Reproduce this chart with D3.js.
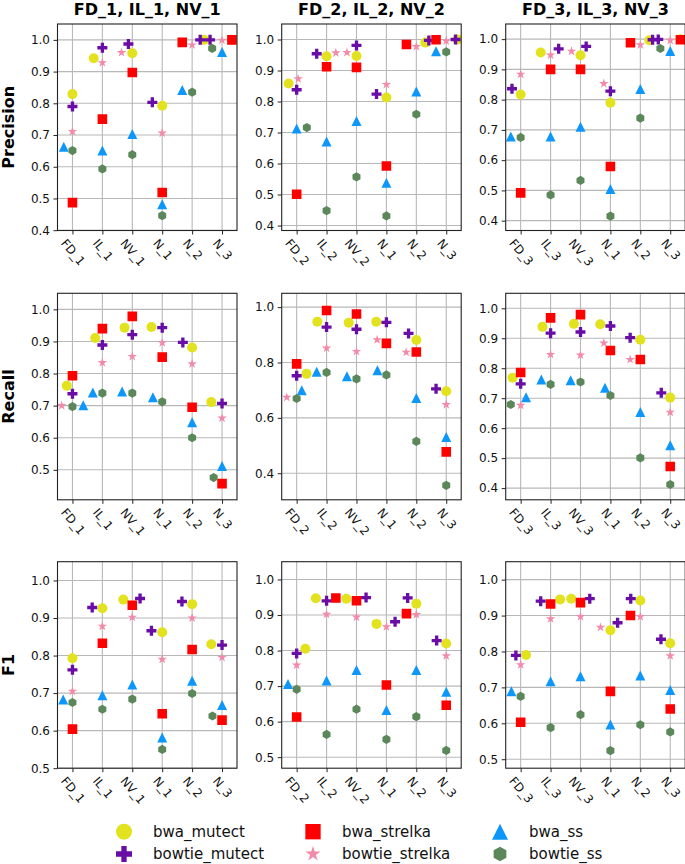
<!DOCTYPE html>
<html><head><meta charset="utf-8">
<script src="https://cdn.jsdelivr.net/npm/d3@7"></script>
<style>
body{margin:0;background:#fff}
svg{display:block}
text{font-family:"DejaVu Sans",sans-serif}
</style>
</head><body>
<svg id="chart" width="685" height="864"></svg>
<script>
// ---------------- DATA ----------------
const seriesNames = ["bwa_mutect","bowtie_mutect","bwa_strelka","bowtie_strelka","bwa_ss","bowtie_ss"];
const metricNames = ["Precision","Recall","F1"];
const columnTitles = ["FD_1, IL_1, NV_1","FD_2, IL_2, NV_2","FD_3, IL_3, NV_3"];
const categories_1 = ["FD_1","IL_1","NV_1","N_1","N_2","N_3"];
const categories_2 = ["FD_2","IL_2","NV_2","N_1","N_2","N_3"];
const categories_3 = ["FD_3","IL_3","NV_3","N_1","N_2","N_3"];

// rows: series (same order as seriesNames); columns: categories
const precision_1 = [
  [0.829,0.942,0.958,0.792,1.000,1.000],
  [0.790,0.975,0.987,0.803,1.000,1.000],
  [0.487,0.750,0.897,0.519,0.992,1.000],
  [0.711,0.928,0.960,0.706,0.984,0.999],
  [0.663,0.651,0.703,0.482,0.842,0.962],
  [0.651,0.593,0.638,0.446,0.835,0.973]];
const precision_2 = [
  [0.858,0.946,0.947,0.813,0.990,1.000],
  [0.838,0.954,0.981,0.824,0.997,1.000],
  [0.501,0.912,0.910,0.592,0.984,0.999],
  [0.873,0.957,0.958,0.855,0.977,0.995],
  [0.713,0.671,0.737,0.538,0.832,0.962],
  [0.716,0.448,0.557,0.431,0.759,0.960]];
const precision_3 = [
  [0.817,0.956,0.947,0.790,0.996,1.000],
  [0.836,0.968,0.976,0.828,0.998,0.999],
  [0.492,0.900,0.900,0.579,0.988,0.998],
  [0.884,0.947,0.960,0.853,0.981,0.996],
  [0.678,0.678,0.710,0.505,0.835,0.961],
  [0.675,0.485,0.533,0.415,0.739,0.969]];
const recall_1 = [
  [0.762,0.911,0.943,0.945,0.881,0.711],
  [0.737,0.889,0.921,0.943,0.897,0.707],
  [0.793,0.940,0.978,0.851,0.695,0.457],
  [0.700,0.834,0.853,0.896,0.830,0.661],
  [0.701,0.741,0.744,0.726,0.648,0.512],
  [0.697,0.739,0.739,0.712,0.600,0.476]];
const recall_2 = [
  [0.759,0.947,0.944,0.947,0.881,0.696],
  [0.752,0.928,0.920,0.945,0.905,0.705],
  [0.795,0.988,0.975,0.869,0.838,0.477],
  [0.674,0.852,0.840,0.882,0.837,0.648],
  [0.700,0.767,0.750,0.772,0.672,0.531],
  [0.670,0.764,0.741,0.755,0.515,0.356]];
const recall_3 = [
  [0.768,0.938,0.948,0.947,0.895,0.702],
  [0.748,0.917,0.921,0.941,0.902,0.718],
  [0.786,0.968,0.979,0.859,0.829,0.472],
  [0.676,0.846,0.844,0.884,0.829,0.653],
  [0.703,0.762,0.760,0.735,0.654,0.543],
  [0.679,0.746,0.754,0.709,0.501,0.412]];
const f1_1 = [
  [0.793,0.926,0.949,0.862,0.937,0.830],
  [0.762,0.928,0.952,0.866,0.944,0.828],
  [0.604,0.833,0.934,0.645,0.816,0.628],
  [0.705,0.878,0.902,0.790,0.900,0.795],
  [0.683,0.694,0.723,0.582,0.733,0.668],
  [0.675,0.657,0.684,0.550,0.699,0.639]];
const f1_2 = [
  [0.805,0.947,0.946,0.875,0.932,0.820],
  [0.792,0.940,0.949,0.881,0.948,0.828],
  [0.613,0.948,0.940,0.703,0.904,0.646],
  [0.759,0.902,0.894,0.867,0.901,0.785],
  [0.706,0.716,0.745,0.633,0.745,0.684],
  [0.691,0.564,0.635,0.550,0.614,0.519]];
const f1_3 = [
  [0.790,0.945,0.947,0.859,0.942,0.823],
  [0.789,0.940,0.947,0.880,0.947,0.834],
  [0.603,0.932,0.936,0.689,0.900,0.640],
  [0.763,0.891,0.897,0.867,0.897,0.788],
  [0.689,0.717,0.731,0.597,0.733,0.693],
  [0.675,0.588,0.624,0.524,0.596,0.576]];

// horizontal jitter of each point, in category units
const jitter_precision_1 = [
  [0,-0.29,0,0,0.40,0.33],[0,0,-0.13,-0.33,0.27,-0.40],[0,0,0,0,-0.33,0.33],
  [0,0,-0.36,0,0,0],[-0.29,0,0,0,-0.33,0],[0,0,0,0,0,-0.33]];
const jitter_precision_2 = [
  [-0.27,0,0,0,0.30,0.38],[0,-0.33,0,-0.33,0.42,0.31],[0,0,0,0,-0.33,-0.34],
  [0.05,0.31,-0.32,0,0,0],[0,0,0,0,0,-0.34],[0.34,0,0,0,0,0]];
const jitter_precision_3 = [
  [0,-0.33,0,0,0.30,0.34],[-0.29,0.27,0.19,0,0.41,-0.40],[0,0,0,0,-0.33,0.34],
  [0,0,-0.30,-0.22,0,0],[-0.33,0,0,0,0,0],[0,0,0,0,0,-0.33]];
const jitter_recall_1 = [
  [-0.19,-0.24,-0.26,-0.36,0,-0.36],[0,0,0,0,-0.31,0],[0,0,0,0,0,0],
  [-0.36,0,0,0,0,0],[0.36,-0.32,-0.34,-0.31,0,0],[0,0,0,0,0,-0.28]];
const jitter_recall_2 = [
  [0.33,-0.31,-0.26,-0.34,0,0],[0,0,0,0,-0.26,-0.34],[0,0,0,0,0,0],
  [-0.33,0,0,-0.31,-0.34,0],[0.17,-0.33,-0.32,-0.30,0,0],[0,0,0,0,0,0]];
const jitter_recall_3 = [
  [-0.27,-0.27,-0.22,-0.34,0,0],[0,0,0,0,-0.34,-0.30],[0,0,0,0,0,0],
  [0,0,0,-0.22,-0.34,0],[0.18,-0.31,-0.33,-0.18,0,0],[-0.33,0,0,0,0,0]];
const jitter_f1_1 = [
  [0,0,-0.30,0,0,-0.36],[0,-0.34,0.26,-0.36,-0.34,0],[0,0,0,0,0,0],
  [0,0,0,0,0,0],[-0.31,0,0,0,0,0],[0,0,0,0,0,-0.32]];
const jitter_f1_2 = [
  [0.29,-0.36,-0.34,-0.33,0,0],[0,0,0.32,0.29,-0.29,-0.32],[0,0.31,0,0,-0.33,0],
  [0,0,0,0,0,0],[-0.29,0,0,0,0,0],[0,0,0,0,0,0]];
const jitter_f1_3 = [
  [0.18,0.32,-0.31,0,0,0],[-0.16,-0.33,0.31,0.24,-0.32,-0.31],[0,0,0,0,-0.33,0],
  [0,0,0,-0.33,0,0],[-0.31,0,0,0,0,0],[0,0,0,0,0,0]];

const yTicks_precision = [0.4,0.5,0.6,0.7,0.8,0.9,1.0];
const yTicks_recall_1 = [0.5,0.6,0.7,0.8,0.9,1.0];
const yTicks_recall_2 = [0.4,0.6,0.8,1.0];
const yTicks_recall_3 = [0.4,0.5,0.6,0.7,0.8,0.9,1.0];
const yTicks_f1 = [0.5,0.6,0.7,0.8,0.9,1.0];
const yLower_precision = [0.399,0.384,0.3675];
const yLower_recall = [0.4066,0.304,0.361];
const yLower_f1 = [0.5,0.469,0.475];
const yUpper = 1.05;

// ---------------- STYLE / LAYOUT ----------------
const colors = ["#e2e21e","#6a0ca6","#ff0000","#f28aa9","#0e97fa","#5b875b"];
const shapes = ["circle","plus","square","star","triangle","hexagon"];
const colLeft = [57.5, 281.7, 505.7];
const rowTop = [24, 293.3, 561.7];
const panelW = 179.5, panelH = 206.5;
const markerSize = 10, legendMarkerSize = 16;

function markerPath(shape, m) {
  const h = m / 2;
  if (shape === "circle") return d3.symbol(d3.symbolCircle, Math.PI * h * h)();
  if (shape === "square") return d3.symbol(d3.symbolSquare, m * m * 0.92)();
  if (shape === "triangle") return `M0,${-h}L${h},${h}L${-h},${h}Z`;
  if (shape === "plus") {
    const a = m / 6;
    return `M${-a},${-h}H${a}V${-a}H${h}V${a}H${a}V${h}H${-a}V${a}H${-h}V${-a}H${-a}Z`;
  }
  if (shape === "star") {
    const R = h, r = h * 0.381966; let p = [];
    for (let i = 0; i < 10; i++) {
      const ang = -Math.PI / 2 + i * Math.PI / 5, rr = i % 2 ? r : R;
      p.push([rr * Math.cos(ang), rr * Math.sin(ang)]);
    }
    return "M" + p.map(q => q[0].toFixed(2) + "," + q[1].toFixed(2)).join("L") + "Z";
  }
  if (shape === "hexagon") {
    const R = h * 0.92; let p = [];
    for (let i = 0; i < 6; i++) {
      const ang = -Math.PI / 2 + i * Math.PI / 3;
      p.push([R * Math.cos(ang), R * Math.sin(ang)]);
    }
    return "M" + p.map(q => q[0].toFixed(2) + "," + q[1].toFixed(2)).join("L") + "Z";
  }
}

const svg = d3.select("#chart");
const panelValues = [[precision_1,precision_2,precision_3],[recall_1,recall_2,recall_3],[f1_1,f1_2,f1_3]];
const panelJitter = [[jitter_precision_1,jitter_precision_2,jitter_precision_3],
                     [jitter_recall_1,jitter_recall_2,jitter_recall_3],
                     [jitter_f1_1,jitter_f1_2,jitter_f1_3]];
const panelCats = [categories_1, categories_2, categories_3];
const panelTicks = [[yTicks_precision,yTicks_precision,yTicks_precision],
                    [yTicks_recall_1,yTicks_recall_2,yTicks_recall_3],
                    [yTicks_f1,yTicks_f1,yTicks_f1]];
const panelLower = [yLower_precision, yLower_recall, yLower_f1];

const defs = svg.append("defs");
const angle = 50, rad = angle * Math.PI / 180;

metricNames.forEach((metric, r) => {
  columnTitles.forEach((title, c) => {
    const x0 = colLeft[c], y0 = rowTop[r];
    const cats = panelCats[c];
    const x = d3.scaleLinear().domain([-0.5, 5.5]).range([x0, x0 + panelW]);
    const y = d3.scaleLinear().domain([panelLower[r][c], yUpper]).range([y0 + panelH, y0]);
    const ticks = panelTicks[r][c];
    const g = svg.append("g");
    const clipId = `clip${r}${c}`;
    defs.append("clipPath").attr("id", clipId).append("rect")
      .attr("x", x0).attr("y", y0).attr("width", panelW).attr("height", panelH);

    // grid
    g.append("g").selectAll("line").data(d3.range(cats.length)).join("line")
      .attr("x1", d => x(d)).attr("x2", d => x(d)).attr("y1", y0).attr("y2", y0 + panelH)
      .attr("stroke", "#b8b8b8").attr("stroke-width", 1.1);
    g.append("g").selectAll("line").data(ticks).join("line")
      .attr("x1", x0).attr("x2", x0 + panelW).attr("y1", d => y(d)).attr("y2", d => y(d))
      .attr("stroke", "#b8b8b8").attr("stroke-width", 1.1);

    // points
    const pts = [];
    seriesNames.forEach((s, si) => {
      cats.forEach((cat, ci) => {
        pts.push({si, ci, v: panelValues[r][c][si][ci], j: panelJitter[r][c][si][ci]});
      });
    });
    g.append("g").attr("clip-path", `url(#${clipId})`)
      .selectAll("path").data(pts).join("path")
      .attr("d", d => markerPath(shapes[d.si], markerSize))
      .attr("transform", d => `translate(${x(d.ci + d.j)},${y(d.v)})`)
      .attr("fill", d => colors[d.si]);

    // frame
    g.append("rect").attr("x", x0).attr("y", y0).attr("width", panelW).attr("height", panelH)
      .attr("fill", "none").attr("stroke", "#222").attr("stroke-width", 1.1);

    // y axis
    const ya = g.append("g").attr("transform", `translate(${x0},0)`)
      .call(d3.axisLeft(y).tickValues(ticks).tickFormat(d3.format(".1f")).tickSize(4).tickPadding(3.5).tickSizeOuter(0));
    ya.select(".domain").remove();
    ya.selectAll("line").attr("stroke", "#222").attr("stroke-width", 1);
    ya.selectAll("text").attr("font-size", 12).attr("font-family", "DejaVu Sans").attr("fill", "#111");

    // x axis
    const xa = g.append("g").attr("transform", `translate(0,${y0 + panelH})`)
      .call(d3.axisBottom(x).tickValues(d3.range(cats.length)).tickFormat(i => cats[i]).tickSize(4).tickSizeOuter(0));
    xa.select(".domain").remove();
    xa.selectAll("line").attr("stroke", "#222").attr("stroke-width", 1);
    xa.selectAll("text").attr("font-size", 12).attr("font-family", "DejaVu Sans").attr("fill", "#111")
      .each(function () {
        const t = d3.select(this);
        const w = this.getComputedTextLength();
        const H = w * Math.sin(rad) + 9 * Math.cos(rad);
        const cy = 7.5 + H / 2;
        t.attr("y", cy).attr("dy", null).attr("x", 0)
          .attr("text-anchor", "middle").attr("dominant-baseline", "central")
          .attr("transform", `rotate(${angle},0,${cy})`);
      });

    if (r === 0) {
      svg.append("text").attr("x", x0 + panelW / 2).attr("y", 15)
        .attr("text-anchor", "middle").attr("font-size", 16).attr("font-weight", "bold")
        .attr("fill", "#000").text(title);
    }
    if (c === 0) {
      svg.append("text").attr("transform", `translate(13.5,${y0 + panelH / 2}) rotate(-90)`)
        .attr("text-anchor", "middle").attr("font-size", 16).attr("font-weight", "bold")
        .attr("fill", "#000").text(metric);
    }
  });
});

// legend
const legendCols = [124, 313, 500];
const legendRows = [831.7, 854];
const lg = svg.append("g");
seriesNames.forEach((s, i) => {
  const col = Math.floor(i / 2), row = i % 2;
  lg.append("path").attr("d", markerPath(shapes[i], legendMarkerSize))
    .attr("transform", `translate(${legendCols[col]},${legendRows[row]})`)
    .attr("fill", colors[i]);
  lg.append("text").attr("x", legendCols[col] + 29).attr("y", legendRows[row])
    .attr("dominant-baseline", "central").attr("font-size", 15).attr("fill", "#111").text(s);
});
</script>
</body></html>
